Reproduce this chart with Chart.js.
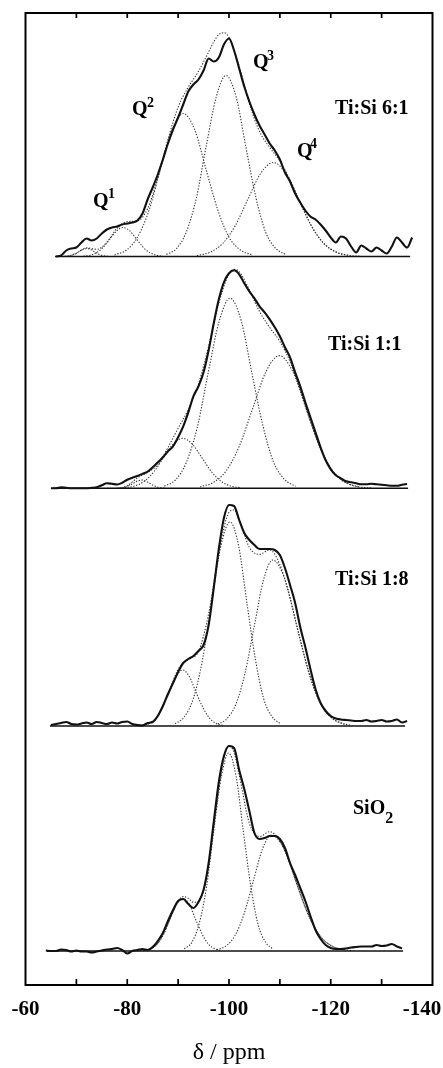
<!DOCTYPE html>
<html><head><meta charset="utf-8">
<script src="https://cdn.jsdelivr.net/npm/chart.js@4.4.0/dist/chart.umd.min.js"></script>
<style>html,body{margin:0;padding:0;background:#fff;}canvas{display:block;}</style>
</head><body>
<canvas id="c" width="443" height="1068"></canvas>
<script>
// ---------- DATA ----------
// chemical shift grid (ppm) for the measured spectra
const ppm = [-64,-65,-66,-67,-68,-69,-70,-71,-72,-73,-74,-75,-76,-77,-78,-79,-80,-81,-82,-83,-84,-85,-86,-87,-88,-89,-90,-91,-92,-93,-94,-95,-96,-97,-98,-99,-100,-101,-102,-103,-104,-105,-106,-107,-108,-109,-110,-111,-112,-113,-114,-115,-116,-117,-118,-119,-120,-121,-122,-123,-124,-125,-126,-127,-128,-129,-130,-131,-132,-133,-134,-135,-136];

// measured spectra (a.u.)
const spec61 = [null,null,0,1,6,8,9,14,18,16,18,23,27,29,30,32,33,34,36,43,57,69,82,97,113,127,139,152,165,172,177,186,198,195,199,212,218,206,188,170,155,142,131,122,113,106,97,84,75,63,54,46,40,37,32,26,19,14,20,18,10,4,11,8,5,9,6,3,10,19,14,9,19];
const spec11 = [null,0,0,1,0.5,0,0,0,0,0.5,1,3,5,4.5,3.8,5.5,8.5,10.6,12.4,14.4,16.6,21,26,31,37,42,51,62,76,92,102,116,138,165,189,206,215,218,214,205,197,190,182,176,169,161,152,141,131,116,102,86,71,56,41,28,19,13,10,7,6,5,4,4,4.5,4,3.5,3,2.5,2.5,3.5,4.3,null];
const spec18 = [null,1,2,3,4,2,1.5,2.5,3.5,2,4,3,2,3.5,2.5,4,4.5,2,1,0.5,3,4,10,20,32,43,54,63,67,70,75,81,101,138,177,208,221,220,206,193,186,181,177,177,177,176,171,158,141,123,99,79,57,37,23,15,10,7.5,6.5,6,5.5,5,5,6,4.5,5,6,4.5,5,6.5,3.5,5,null];
const specSi = [0.5,0,0,1.5,1,-0.5,0.5,-0.5,-0.5,-1.5,-0.5,0.5,1.5,2,3,1,-2.5,0,1,2,1,4,10,18,30,41,50,52,47,43,49,61,88,129,169,195,205,203,181,162,140,118,112,113,115,115,112,103,88,76,63,50,35,21,12,6,3,2,2,2.5,3.5,4,4.5,4.5,4.5,6,5,5.5,7,4.5,2.5,null,null];

// baseline extents (ppm)
const base61 = [-65.8,-135.6];
const base11 = [-65.4,-135.2];
const base18 = [-64.8,-134.6];
const baseSi = [-64.2,-134.2];

// fitted envelopes [ppm, a.u.]
const fit61 = [[-66,0],[-68,0.2],[-70,3.3],[-72,8.6],[-74,7.2],[-76,14.3],[-78,28.3],[-80,34.9],[-82,35.6],[-84,47.9],[-86,78.5],[-88,117],[-90,149.4],[-92,169.4],[-94,185.1],[-96,204.6],[-97,214.6],[-98,221.9],[-99,223.8],[-100,219],[-102,190.4],[-104,152.9],[-106,125],[-108,109],[-110,95.4],[-112,76.6],[-114,53.8],[-116,32.4],[-118,16.7],[-120,7.3],[-122,2.7],[-124,0.9],[-126,0.2]];
const fit11 = [[-76,0],[-78,0.1],[-80,2.6],[-82,10.5],[-84,15.9],[-86,23.7],[-88,40.8],[-90,60],[-92,78.8],[-94,104.4],[-96,142],[-98,185.1],[-100,214.4],[-101,218.9],[-102,216.6],[-104,198.4],[-106,176.8],[-108,160.8],[-110,146.8],[-112,126.7],[-114,98.4],[-116,66.7],[-118,39.5],[-120,20.1],[-122,8.8],[-124,3.4],[-126,1.1],[-128,0.3]];
const fit18 = [[-82,0.2],[-84,1.9],[-86,10.1],[-88,31.5],[-90,56.6],[-92,66.7],[-94,74.6],[-96,112.5],[-98,173],[-99,198.3],[-100,213.6],[-101,216],[-102,206.8],[-103,191.9],[-104,178.5],[-106,171.6],[-108,176.2],[-110,161.4],[-112,127.8],[-114,85.8],[-116,48],[-118,22.4],[-120,8.8],[-122,2.9],[-124,0.7]];
const fitSi = [[-82,0.1],[-84,1.2],[-86,7.7],[-88,26.9],[-90,50],[-91,54.5],[-92,52.7],[-93,48.7],[-94,49.4],[-95,61.2],[-96,87.1],[-98,162.5],[-99,192.5],[-100,205.6],[-101,198.2],[-102,176.2],[-104,127.8],[-106,114.5],[-108,119.3],[-110,110],[-112,86.5],[-114,57],[-116,31.3],[-118,14.4],[-120,5.5],[-122,1.8],[-124,0.4]];

// deconvoluted components: x (ppm) and y (a.u.)
const q0_61x = [-67.5,-68.3,-69,-69.8,-70.5,-71.3,-72,-72.8,-73.5,-74.3,-75,-75.8,-76.5];
const q0_61y = [0.1,0.35,1.1,2.6,4.9,7.1,8,7.1,4.9,2.6,1.1,0.35,0.1];
const q1_61x = [-71.4,-72.7,-74,-75.3,-76.6,-77.9,-79.2,-80.5,-81.8,-83.1,-84.4,-85.7,-87];
const q1_61y = [0.3,1.3,3.9,9.4,17.6,25.6,29,25.6,17.6,9.4,3.9,1.3,0.3];
const q2_61x = [-77.5,-79.8,-82,-84.3,-86.5,-88.8,-91,-93.3,-95.5,-97.8,-100,-102.3,-104.5];
const q2_61y = [1.6,6.3,19.3,46.5,86.8,126.1,143,126.1,86.8,46.5,19.3,6.3,1.6];
const q3_61x = [-87.7,-89.7,-91.6,-93.6,-95.5,-97.5,-99.4,-101.4,-103.3,-105.3,-107.2,-109.2,-111.1];
const q3_61y = [2,8,24.4,58.8,109.9,159.6,181,159.6,109.9,58.8,24.4,8,2];
const q4_61x = [-93.7,-96.2,-98.7,-101.2,-103.7,-106.2,-108.7,-111.2,-113.7,-116.2,-118.7,-121.2,-123.7];
const q4_61y = [1,4.1,12.7,30.6,57.1,82.9,94,82.9,57.1,30.6,12.7,4.1,1];

const q1_11x = [-78,-78.8,-79.6,-80.4,-81.2,-82,-82.8,-83.6,-84.4,-85.2,-86,-86.8,-87.6];
const q1_11y = [0.1,0.4,1.1,2.7,5,7.3,8.3,7.3,5,2.7,1.1,0.4,0.1];
const q2_11x = [-79.5,-81.4,-83.3,-85.2,-87.1,-89,-90.9,-92.8,-94.7,-96.6,-98.5,-100.4,-102.3];
const q2_11y = [0.6,2.2,6.8,16.3,30.4,44.1,50,44.1,30.4,16.3,6.8,2.2,0.6];
const q3_11x = [-87.3,-89.5,-91.6,-93.8,-95.9,-98.1,-100.2,-102.4,-104.5,-106.7,-108.8,-111,-113.1];
const q3_11y = [2.1,8.4,25.7,61.8,115.3,167.6,190,167.6,115.3,61.8,25.7,8.4,2.1];
const q4_11x = [-94.3,-96.9,-99.5,-102.1,-104.7,-107.3,-109.9,-112.5,-115.1,-117.7,-120.3,-122.9,-125.5];
const q4_11y = [1.5,5.8,17.9,43.1,80.5,117,132.7,117,80.5,43.1,17.9,5.8,1.5];

const q2_18x = [-82.9,-84.3,-85.6,-86.9,-88.3,-89.6,-90.9,-92.2,-93.5,-94.9,-96.2,-97.5,-98.9];
const q2_18y = [0.6,2.5,7.6,18.2,34,49.4,56,49.4,34,18.2,7.6,2.5,0.6];
const q3_18x = [-89.4,-91.2,-93,-94.8,-96.6,-98.4,-100.2,-101.9,-103.5,-105.2,-106.8,-108.5,-110.1];
const q3_18y = [2.2,9,27.5,66.3,123.8,179.9,204,179.9,123.8,66.3,27.5,9,2.2];
const q4_18x = [-97.8,-99.6,-101.4,-103.2,-105,-106.8,-108.6,-111,-113.3,-115.7,-118,-120.4,-122.7];
const q4_18y = [1.8,7.3,22.4,54,100.8,146.4,166,146.4,100.8,54,22.4,7.3,1.8];

const q2_Six = [-83.4,-84.7,-85.9,-87.2,-88.4,-89.7,-90.9,-92.2,-93.4,-94.7,-95.9,-97.2,-98.4];
const q2_Siy = [0.6,2.3,7.1,17.1,32,46.5,52.7,46.5,32,17.1,7.1,2.3,0.6];
const q3_Six = [-91.2,-92.7,-94.1,-95.6,-97,-98.5,-99.9,-101.4,-102.8,-104.3,-105.7,-107.2,-108.6];
const q3_Siy = [2.2,8.7,26.7,64.4,120.2,174.6,198,174.6,120.2,64.4,26.7,8.7,2.2];
const q4_Six = [-97.6,-99.4,-101.2,-103,-104.8,-106.6,-108.4,-110.8,-113.1,-115.5,-117.8,-120.2,-122.5];
const q4_Siy = [1.3,5.1,15.7,37.7,70.4,102.3,116,102.3,70.4,37.7,15.7,5.1,1.3];

// axis tick labels
const tickValues = [-60,-80,-100,-120,-140];
const tickLabels = ['-60','-80','-100','-120','-140'];
const axisTitle = 'δ / ppm';

// panel names and peak labels
const sampleNames = ['Ti:Si 6:1','Ti:Si 1:1','Ti:Si 1:8','SiO'];
const qNames = ['Q','Q','Q','Q'];
const qIndices = ['1','2','3','4'];

// ---------- LAYOUT (vertical stacking offsets, label anchors in data coords) ----------
const offsets = [728.5, 496.7, 259, 34];
const textItems = [
  {t: sampleNames[0], x:-120.84, y:871.5, font:'bold 20px "Liberation Serif"'},
  {t: sampleNames[1], x:-119.46, y:635, font:'bold 20px "Liberation Serif"'},
  {t: sampleNames[2], x:-120.84, y:400, font:'bold 20px "Liberation Serif"'},
  {t: sampleNames[3], x:-124.37, y:171, font:'bold 20px "Liberation Serif"'},
  {t: '2', x:-130.7, y:162, font:'bold 16px "Liberation Serif"'},
  {t: qNames[0], x:-73.27, y:778, font:'bold 20px "Liberation Serif"'},
  {t: qIndices[0], x:-76.22, y:787, font:'bold 14px "Liberation Serif"'},
  {t: qNames[1], x:-80.93, y:870, font:'bold 20px "Liberation Serif"'},
  {t: qIndices[1], x:-83.88, y:878, font:'bold 14px "Liberation Serif"'},
  {t: qNames[2], x:-104.72, y:917, font:'bold 20px "Liberation Serif"'},
  {t: qIndices[2], x:-107.47, y:925, font:'bold 14px "Liberation Serif"'},
  {t: qNames[3], x:-113.37, y:828, font:'bold 20px "Liberation Serif"'},
  {t: qIndices[3], x:-115.92, y:837, font:'bold 14px "Liberation Serif"'}
];

// ---------- BUILD ----------
function specPts(arr, off){ const o=[]; ppm.forEach((p,i)=>{ if(arr[i]!==null) o.push({x:p,y:off+arr[i]}); }); return o; }
function xyPts(xs, ys, off){ return xs.map((x,i)=>({x:x,y:off+ys[i]})); }
function pairPts(pairs, off){ return pairs.map(p=>({x:p[0],y:off+p[1]})); }
function basePts(b, off){ return [{x:b[0],y:off},{x:b[1],y:off}]; }

const solidStyle = {borderColor:'#111', borderWidth:2.1, pointRadius:0, fill:false, cubicInterpolationMode:'monotone'};
const baseStyle = {borderColor:'#111', borderWidth:1.6, pointRadius:0, fill:false, tension:0};
const dotStyle = {borderColor:'#333', borderWidth:1.1, borderDash:[1.3,1.6], pointRadius:0, fill:false, cubicInterpolationMode:'monotone'};

const specs = [spec61, spec11, spec18, specSi];
const bases = [base61, base11, base18, baseSi];
const fits = [fit61, fit11, fit18, fitSi];
const comps = [
  [[q0_61x,q0_61y],[q1_61x,q1_61y],[q2_61x,q2_61y],[q3_61x,q3_61y],[q4_61x,q4_61y]],
  [[q1_11x,q1_11y],[q2_11x,q2_11y],[q3_11x,q3_11y],[q4_11x,q4_11y]],
  [[q2_18x,q2_18y],[q3_18x,q3_18y],[q4_18x,q4_18y]],
  [[q2_Six,q2_Siy],[q3_Six,q3_Siy],[q4_Six,q4_Siy]]
];

const datasets = [];
specs.forEach((s,k)=>datasets.push(Object.assign({label:sampleNames[k], data:specPts(s,offsets[k])}, solidStyle)));
bases.forEach((b,k)=>datasets.push(Object.assign({label:'baseline '+k, data:basePts(b,offsets[k])}, baseStyle)));
fits.forEach((f,k)=>datasets.push(Object.assign({label:'fit '+k, data:pairPts(f,offsets[k])}, dotStyle)));
comps.forEach((list,k)=>list.forEach((c,j)=>datasets.push(Object.assign({label:'comp '+k+'-'+j, data:xyPts(c[0],c[1],offsets[k])}, dotStyle))));

const framePlugin = {
  id:'frame',
  afterDraw(chart){
    const {ctx, chartArea:a, scales:{x, y}} = chart;
    ctx.save();
    ctx.strokeStyle = '#000';
    ctx.lineWidth = 2;
    ctx.strokeRect(a.left, a.top, a.right-a.left, a.bottom-a.top);
    ctx.lineWidth = 1.7;
    x.ticks.forEach(t=>{
      if (t.value <= x.min || t.value >= x.max) return;
      const px = x.getPixelForValue(t.value);
      ctx.beginPath();
      ctx.moveTo(px, a.bottom); ctx.lineTo(px, a.bottom-6);
      ctx.moveTo(px, a.top); ctx.lineTo(px, a.top+5);
      ctx.stroke();
    });
    ctx.fillStyle = '#000';
    ctx.textAlign = 'left';
    ctx.textBaseline = 'alphabetic';
    textItems.forEach(it=>{
      ctx.font = it.font;
      ctx.fillText(it.t, x.getPixelForValue(it.x), y.getPixelForValue(it.y));
    });
    ctx.restore();
  }
};

new Chart(document.getElementById('c'), {
  type:'line',
  data:{datasets:datasets},
  options:{
    responsive:false, devicePixelRatio:1, animation:false, events:[],
    layout:{padding:{left:25.5, right:10.5, top:13, bottom:0}},
    plugins:{legend:{display:false}, tooltip:{enabled:false}},
    scales:{
      x:{
        type:'linear', min:-140, max:-60, reverse:true,
        afterFit(s){ s.paddingLeft = 0; s.paddingRight = 0; s.height = 83; },
        grid:{display:false}, border:{display:false},
        ticks:{
          stepSize:10, autoSkip:false, maxRotation:0, minRotation:0, padding:4, color:'#000',
          font:{family:'Liberation Serif', size:21, weight:'bold'},
          callback(v){
            const i = tickValues.indexOf(v);
            if (i < 0) return '';
            return i === tickLabels.length-1 ? tickLabels[i] + '\u2002\u2002' : tickLabels[i];
          }
        },
        title:{display:true, text:axisTitle, color:'#000', font:{family:'Liberation Serif', size:24}, padding:{top:0, bottom:1}}
      },
      y:{type:'linear', display:false, min:0, max:972}
    }
  },
  plugins:[framePlugin]
});
</script>
</body></html>
